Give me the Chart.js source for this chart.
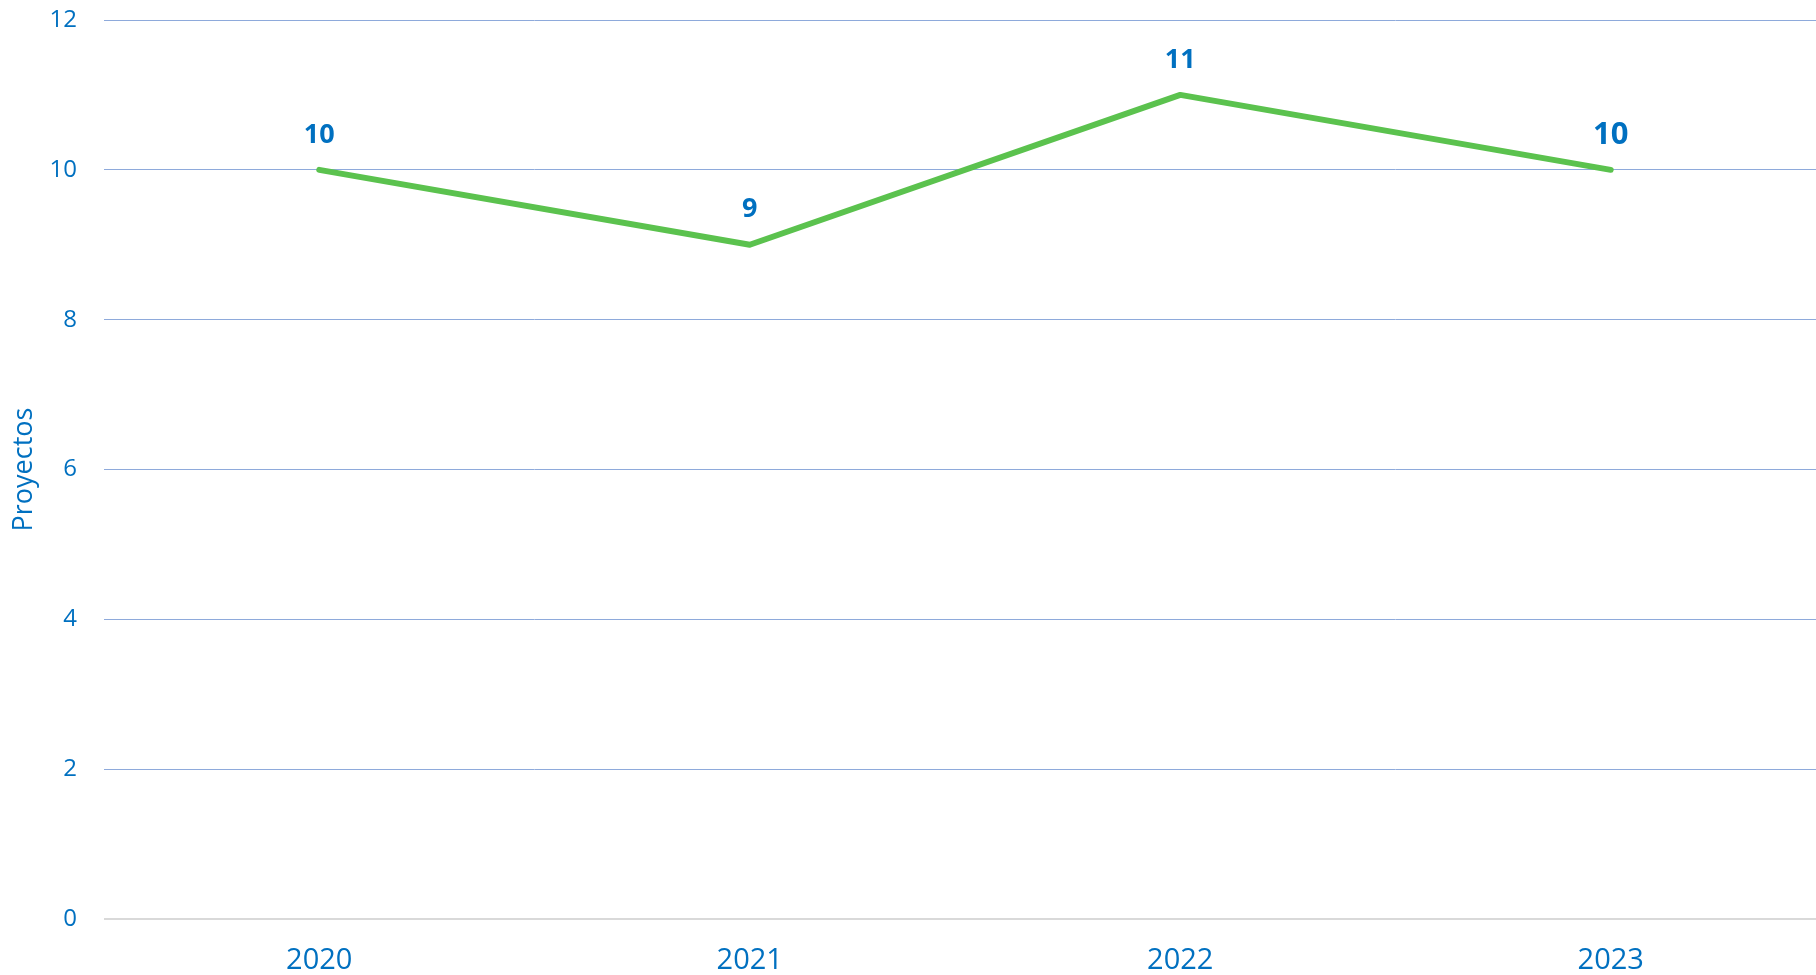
<!DOCTYPE html>
<html>
<head>
<meta charset="utf-8">
<script src="https://cdn.jsdelivr.net/npm/chart.js@4.4.0/dist/chart.umd.min.js"></script>
<style>
    html, body { margin: 0; padding: 0; overflow: hidden; background: #ffffff; }
    #wrap { width: 1826px; height: 975px; }
</style>
</head>
<body>
<div id="wrap"><canvas id="projectsChart" width="1826" height="975"></canvas></div>
<script>
// Chart data
const years = ['2020', '2021', '2022', '2023'];
const projects = [10, 9, 11, 10];
const labelSizes = [27, 27, 27, 31]; // last label is drawn a bit bigger
const yTicks = [0, 2, 4, 6, 8, 10, 12];

const BLUE = '#0070c0';
const FONT = "'Open Sans', 'Noto Sans', sans-serif";

// Draw value labels above each point
const pointLabels = {
    id: 'pointLabels',
    afterDatasetsDraw(chart) {
        const ctx = chart.ctx;
        const meta = chart.getDatasetMeta(0);
        ctx.save();
        ctx.fillStyle = BLUE;
        ctx.textAlign = 'center';
        ctx.textBaseline = 'middle';
        meta.data.forEach((pt, i) => {
            ctx.font = `bold ${labelSizes[i]}px ${FONT}`;
            ctx.fillText(String(projects[i]), pt.x, pt.y - 35);
        });
        ctx.restore();
    }
};

const ctx = document.getElementById('projectsChart').getContext('2d');
const projectsChart = new Chart(ctx, {
    type: 'line',
    data: {
        labels: years,
        datasets: [{
            label: 'Proyectos',
            data: projects,
            borderColor: '#5bc24e',
            borderWidth: 6,
            pointRadius: 0,
            tension: 0,
            borderCapStyle: 'round',
            borderJoinStyle: 'round'
        }]
    },
    options: {
        responsive: false,
        animation: false,
        layout: { padding: { top: 20, left: 0, right: 0, bottom: 0 } },
        plugins: {
            legend: { display: false },
            tooltip: { enabled: false }
        },
        scales: {
            x: {
                offset: true,
                grid: { display: false, drawTicks: false },
                border: { display: false },
                ticks: {
                    color: BLUE,
                    font: { family: FONT, size: 29 },
                    padding: 24,
                    maxRotation: 0
                },
                afterFit: scale => { scale.height = 56; }
            },
            y: {
                min: 0,
                max: 12,
                afterBuildTicks: scale => {
                    scale.ticks = yTicks.map(v => ({ value: v }));
                },
                grid: {
                    drawTicks: false,
                    color: c => c.tick && c.tick.value === 0 ? '#d9d9d9' : '#8eaadb',
                    lineWidth: c => c.tick && c.tick.value === 0 ? 2 : 1
                },
                border: { display: false },
                ticks: {
                    color: BLUE,
                    font: { family: FONT, size: 24 },
                    padding: 27
                },
                title: {
                    display: true,
                    text: 'Proyectos',
                    color: BLUE,
                    font: { family: FONT, size: 27 },
                    padding: { top: 8, bottom: 0 }
                },
                afterFit: scale => {
                    scale.width = 104;
                    // tick padding is horizontal only, keep it off the top/bottom
                    scale.paddingTop = 0;
                    scale.paddingBottom = 0;
                }
            }
        }
    },
    plugins: [pointLabels]
});
</script>
</body>
</html>
